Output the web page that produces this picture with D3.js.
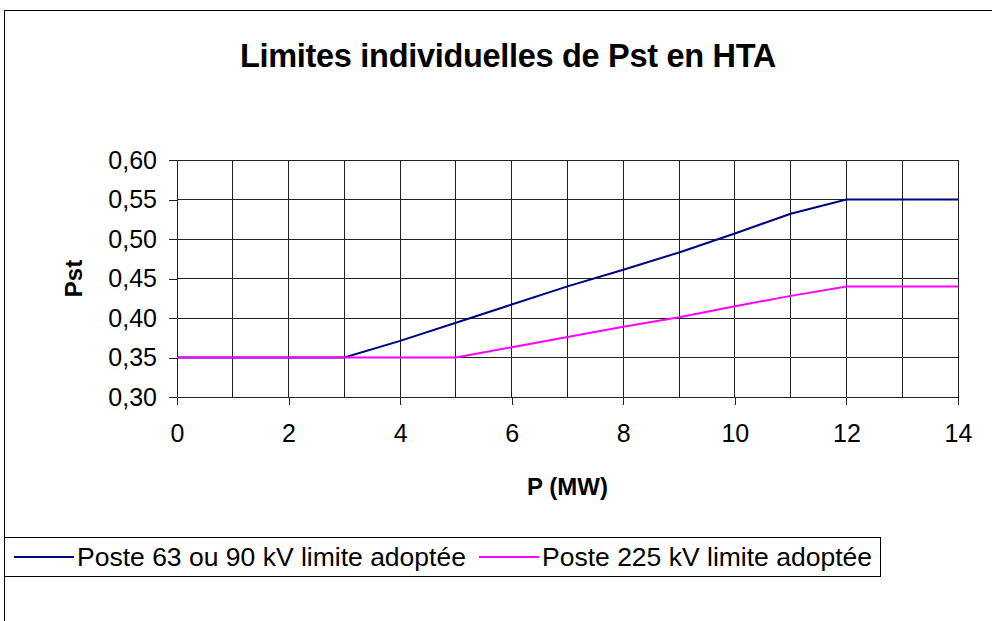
<!DOCTYPE html>
<html>
<head>
<meta charset="utf-8">
<script src="https://cdn.jsdelivr.net/npm/d3@7.9.0/dist/d3.min.js"></script>
<style>
  html, body { margin: 0; padding: 0; background: #fff; }
  svg { display: block; font-family: "Liberation Sans", Arial, sans-serif; }
</style>
</head>
<body>
<svg width="992" height="621"></svg>
<script>
// P (MW) values on the x axis
const pValues = [0, 1, 2, 3, 4, 5, 6, 7, 8, 9, 10, 11, 12, 13, 14];
// Pst limits
const poste63_90 = [0.35, 0.35, 0.35, 0.35, 0.371, 0.394, 0.417, 0.44, 0.461, 0.483, 0.507, 0.532, 0.55, 0.55, 0.55];
const poste225 = [0.35, 0.35, 0.35, 0.35, 0.35, 0.35, 0.363, 0.376, 0.389, 0.401, 0.415, 0.428, 0.44, 0.44, 0.44];
const seriesNames = ['Poste 63 ou 90 kV limite adoptée', 'Poste 225 kV limite adoptée'];
const seriesColors = ['#000080', '#ff00ff'];
const xTicks = [0, 2, 4, 6, 8, 10, 12, 14];
const yTicks = [0.30, 0.35, 0.40, 0.45, 0.50, 0.55, 0.60];

const svg = d3.select('svg');

// outer chart frame (runs off the right/bottom edge)
svg.append('rect')
  .attr('x', 4.5).attr('y', 10.5)
  .attr('width', 1000).attr('height', 700)
  .attr('fill', '#fff').attr('stroke', '#000').attr('stroke-width', 1);

const x = d3.scaleLinear().domain([0, 14]).range([177, 958]);
const y = d3.scaleLinear().domain([0.30, 0.60]).range([397, 160]);

const locale = d3.formatLocale({ decimal: ',', thousands: ' ', grouping: [3], currency: ['', ' €'] });
const fmt = locale.format('.2f');

// grid
const grid = svg.append('g').attr('stroke', '#222').attr('shape-rendering', 'crispEdges');
grid.selectAll('line.v')
  .data(pValues)
  .join('line')
  .attr('class', 'v')
  .attr('x1', d => x(d)).attr('x2', d => x(d))
  .attr('y1', y(0.60)).attr('y2', y(0.30));
grid.selectAll('line.h')
  .data(yTicks)
  .join('line')
  .attr('class', 'h')
  .attr('x1', x(0)).attr('x2', x(14))
  .attr('y1', d => y(d)).attr('y2', d => y(d));

// axes
const xAxis = svg.append('g')
  .attr('transform', `translate(0,${y(0.30)})`)
  .call(d3.axisBottom(x).tickValues(xTicks).tickSize(8).tickPadding(19).tickFormat(d3.format('d')));
const yAxis = svg.append('g')
  .attr('transform', `translate(${x(0)},0)`)
  .call(d3.axisLeft(y).tickValues(yTicks).tickSize(8).tickPadding(12).tickFormat(fmt));

[xAxis, yAxis].forEach(a => {
  a.select('.domain').attr('stroke', '#222').attr('shape-rendering', 'crispEdges');
  a.selectAll('.tick line').attr('stroke', '#222').attr('shape-rendering', 'crispEdges');
  a.selectAll('text').attr('font-size', 25).attr('fill', '#000')
    .attr('font-family', '"Liberation Sans", Arial, sans-serif');
});

// series lines
const line = d3.line().x((d, i) => x(pValues[i])).y(d => y(d));
[poste63_90, poste225].forEach((s, i) => {
  svg.append('path')
    .datum(s)
    .attr('d', line)
    .attr('fill', 'none')
    .attr('stroke', seriesColors[i])
    .attr('stroke-width', 2);
});

// title
svg.append('text')
  .attr('x', 508).attr('y', 67)
  .attr('text-anchor', 'middle')
  .attr('font-size', 32.5).attr('font-weight', 'bold')
  .attr('letter-spacing', -0.3)
  .text('Limites individuelles de Pst en HTA');

// axis titles
svg.append('text')
  .attr('x', (x(0) + x(14)) / 2).attr('y', 495)
  .attr('text-anchor', 'middle')
  .attr('font-size', 24).attr('font-weight', 'bold')
  .text('P (MW)');
svg.append('text')
  .attr('transform', `translate(82,${(y(0.3) + y(0.6)) / 2}) rotate(-90)`)
  .attr('text-anchor', 'middle')
  .attr('font-size', 24).attr('font-weight', 'bold')
  .text('Pst');

// legend
const legend = svg.append('g');
legend.append('rect')
  .attr('x', 4.5).attr('y', 537.5)
  .attr('width', 876).attr('height', 39)
  .attr('fill', '#fff').attr('stroke', '#000');
const legendItems = [{ x0: 14 }, { x0: 479 }];
legendItems.forEach((it, i) => {
  legend.append('line')
    .attr('x1', it.x0).attr('x2', it.x0 + 60)
    .attr('y1', 557).attr('y2', 557)
    .attr('stroke', seriesColors[i]).attr('stroke-width', 2);
  legend.append('text')
    .attr('x', it.x0 + 63).attr('y', 566)
    .attr('font-size', 26.5)
    .text(seriesNames[i]);
});
</script>
</body>
</html>
